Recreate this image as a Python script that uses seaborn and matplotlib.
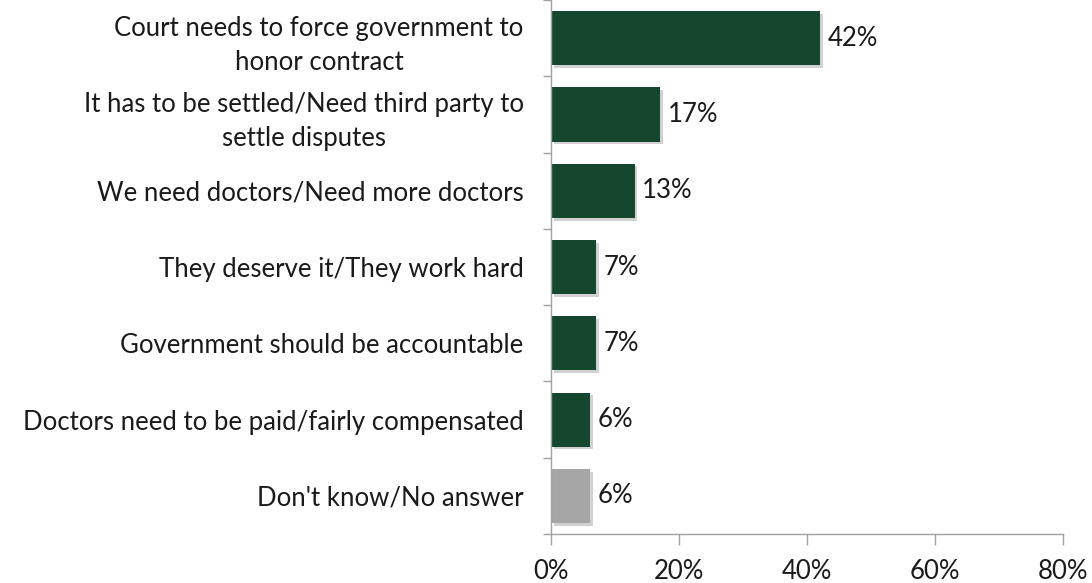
import pandas as pd
import matplotlib
matplotlib.use("Agg")
import matplotlib.pyplot as plt
import matplotlib.patheffects as pe
import seaborn as sns

sns.set_style("white")
plt.rcParams['font.family'] = ['Lato', 'DejaVu Sans']

# data
categories = [
    "Court needs to force government to\nhonor contract",
    "It has to be settled/Need third party to\nsettle disputes",
    "We need doctors/Need more doctors",
    "They deserve it/They work hard",
    "Government should be accountable",
    "Doctors need to be paid/fairly compensated",
    "Don't know/No answer",
]
values = [42, 17, 13, 7, 7, 6, 6]
bar_colors = ["#15472f"] * 6 + ["#a6a6a6"]

df = pd.DataFrame({"Reason": categories, "Percent": values})

FS = 18.5

fig, ax = plt.subplots(figsize=(10.92, 5.83), dpi=100)
fig.subplots_adjust(left=0.505, right=0.973, top=1.0, bottom=0.084)

sns.barplot(data=df, x="Percent", y="Reason", hue="Reason", palette=bar_colors,
            legend=False, width=0.71, ax=ax, saturation=1, linewidth=0)

shadow = [pe.SimplePatchShadow(offset=(2, -2), shadow_rgbFace="#999999", alpha=0.45), pe.Normal()]
for p in ax.patches:
    p.set_path_effects(shadow)

for i, v in enumerate(values):
    ax.text(v + 1.2, i, f"{v}%", va="center", ha="left", fontsize=FS, color="#1a1a1a")

ax.set_xlim(0, 80)
ax.set_ylim(len(values) - 0.5, -0.5)
ax.set_xticks([0, 20, 40, 60, 80])
ax.set_xticklabels([f"{t}%" for t in [0, 20, 40, 60, 80]], fontsize=FS, color="#1a1a1a")
ax.set_xlabel("")
ax.set_ylabel("")

ax.set_yticks(range(len(categories)))
ax.set_yticklabels(categories, fontsize=FS, color="#1a1a1a", multialignment="center",
                   linespacing=1.45)
ax.set_yticks([i - 0.5 for i in range(len(categories) + 1)], minor=True)
ax.tick_params(axis="y", which="major", left=False, length=0, pad=20)
ax.tick_params(axis="y", which="minor", left=True, length=6, color="#a0a0a0",
               direction="out", width=1)
ax.tick_params(axis="x", which="major", bottom=True, length=8, color="#a0a0a0",
               direction="out", pad=10, width=1)

sns.despine(ax=ax, top=True, right=True)
for s in ["left", "bottom"]:
    ax.spines[s].set_color("#a0a0a0")
    ax.spines[s].set_linewidth(1)

fig.savefig("out.png", dpi=100)
